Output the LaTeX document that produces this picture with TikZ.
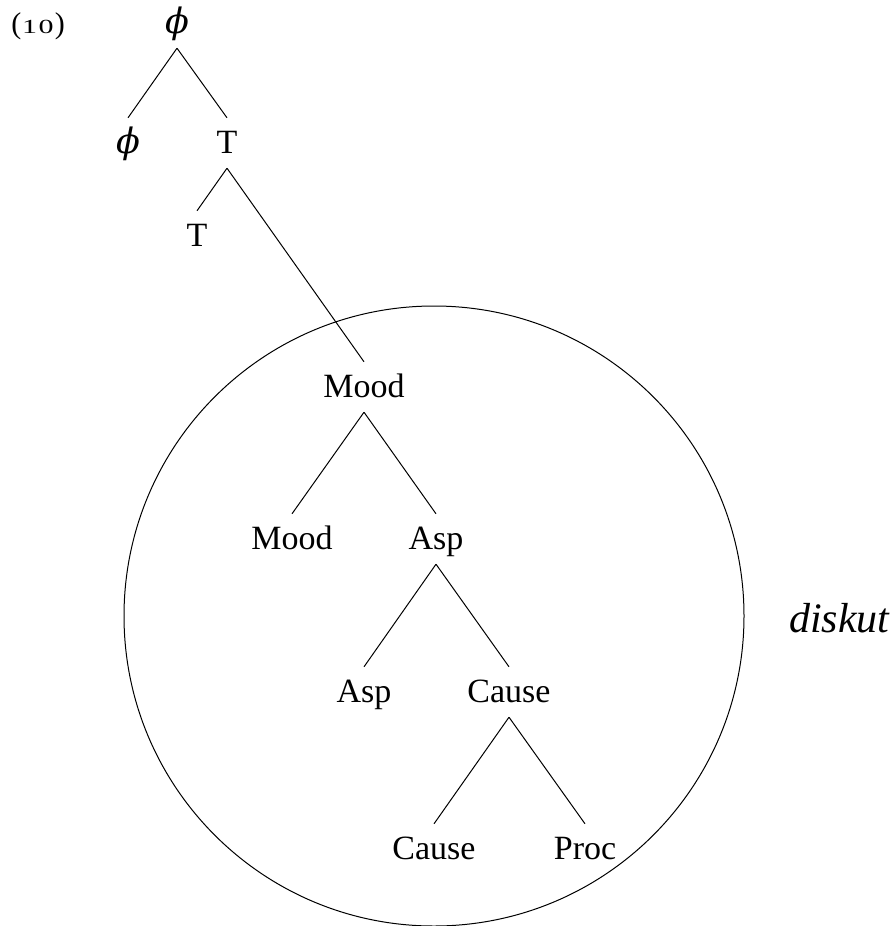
\documentclass[tikz,border=0pt]{standalone}
\usepackage{graphicx}
\usepackage{fontspec}
\setmainfont{Liberation Serif}
\newfontfamily\phifont{DejaVu Serif}
\newcommand{\phisym}{{\phifont\itshape\fontsize{35}{40}\selectfont ϕ}}
\newcommand{\exdigits}{\scalebox{1.5}[1]{\fontsize{20}{24}\selectfont 1\kern1pt 0}}
\begin{document}
\begin{tikzpicture}[x=1pt,y=-1pt,
  lab/.style={anchor=base, inner sep=0pt, text height=35pt, text depth=15pt,
    font=\fontsize{34}{40}\selectfont},
  branch/.style={line width=1pt, black}]
\useasboundingbox (0,0) rectangle (896,926);
% example number
\node[anchor=base, inner sep=0pt, font=\fontsize{30}{36}\selectfont] (num) at (38,33) {(\kern1pt\exdigits\kern1pt)};
% tree nodes
\node[lab] (phiA) at (177,33) {\phisym};
\node[lab] (phiB) at (128,153) {\phisym};
\node[lab] (TA) at (227,153) {T};
\node[lab] (TB) at (197,246) {T};
\node[lab] (MoodA) at (364,397) {Mood};
\node[lab] (MoodB) at (292,549) {Mood};
\node[lab] (AspA) at (436,549) {Asp};
\node[lab] (AspB) at (364,702) {Asp};
\node[lab] (CauseA) at (509,702) {Cause};
\node[lab] (CauseB) at (434,859) {Cause};
\node[lab] (Proc) at (585,859) {Proc};
% label
\node[anchor=base west, inner sep=0pt, font=\fontsize{42}{48}\selectfont\itshape] (diskut) at (789,632) {diskut};
% circle
\draw[branch] (434,616) circle (310);
% branches
\draw[branch] (phiA.south) -- (phiB.north);
\draw[branch] (phiA.south) -- (TA.north);
\draw[branch] (TA.south) -- (TB.north);
\draw[branch] (TA.south) -- (MoodA.north);
\draw[branch] (MoodA.south) -- (MoodB.north);
\draw[branch] (MoodA.south) -- (AspA.north);
\draw[branch] (AspA.south) -- (AspB.north);
\draw[branch] (AspA.south) -- (CauseA.north);
\draw[branch] (CauseA.south) -- (CauseB.north);
\draw[branch] (CauseA.south) -- (Proc.north);
\end{tikzpicture}
\end{document}
